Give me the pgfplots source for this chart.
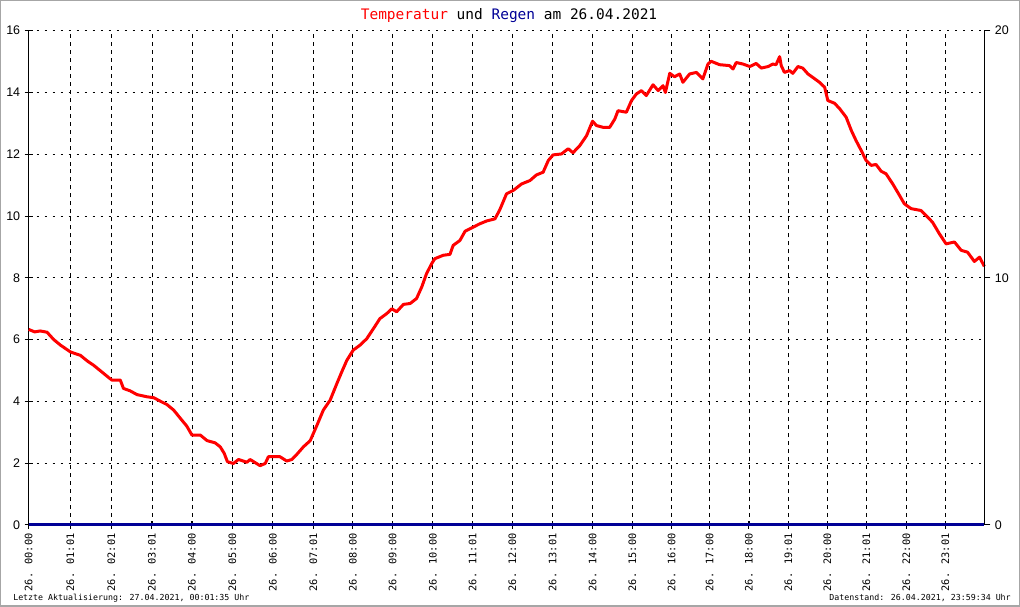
\documentclass[border=0pt]{standalone}
\usepackage{fontspec}
\setmainfont{Liberation Sans}
\newfontfamily\monofont{DejaVu Sans Mono}
\usepackage{pgfplots}
\pgfplotsset{compat=1.18}

\definecolor{regenblau}{RGB}{0,0,150}

\begin{document}
\begin{tikzpicture}
% outer frame of the image
\draw[gray!70, line width=1.5pt] (0,0) rectangle (1020pt,606pt);

\node[anchor=base, font=\monofont\fontsize{14.5}{14.5}\selectfont] at (509pt,587pt)
  {\textcolor{red}{Temperatur} und \textcolor{regenblau}{Regen} am 26.04.2021};

\begin{axis}[
  at={(28pt,81pt)}, anchor=south west,
  scale only axis, width=957pt, height=495pt,
  xmin=0, xmax=24, ymin=0, ymax=16,
  axis x line*=bottom, axis y line*=left,
  axis line style={line width=1pt, -},
  xtick={0,1.046,2.075,3.096,4.099,5.118,6.131,7.150,8.14,9.14,10.15,11.15,12.15,13.16,14.16,15.16,16.15,17.10,18.09,19.08,20.06,21.04,22.04,23.02},
  xticklabels={26. 00:00,26. 01:01,26. 02:01,26. 03:01,26. 04:00,26. 05:00,26. 06:00,26. 07:01,26. 08:00,26. 09:00,26. 10:00,26. 11:01,26. 12:00,26. 13:01,26. 14:00,26. 15:00,26. 16:00,26. 17:00,26. 18:00,26. 19:01,26. 20:00,26. 21:01,26. 22:00,26. 23:01},
  xticklabel style={font=\monofont\fontsize{10.3}{10.3}\selectfont, rotate=90, anchor=east, xshift=-1pt},
  ytick={0,2,4,6,8,10,12,14,16},
  yticklabel style={font=\fontsize{12.5}{12.5}\selectfont, xshift=-1pt},
  /pgf/number format/assume math mode=true,
  tick style={black, line width=1pt},
  major tick length=8pt,
  tick align=center,
  xmajorgrids=true, ymajorgrids=true,
  x grid style={black, line width=0.8pt, dash pattern=on 4pt off 4pt},
  y grid style={black, line width=0.8pt, dash pattern=on 2pt off 6pt},
  clip=false,
]
\addplot[red, line width=3pt, line join=round] coordinates {
(0,6.33) (0.15,6.25) (0.29,6.28) (0.46,6.24) (0.63,6.0) (0.80,5.82) (1.05,5.6) (1.30,5.49)
(1.47,5.31) (1.63,5.17) (1.84,4.95) (2.01,4.77) (2.09,4.69) (2.30,4.69) (2.38,4.42) (2.55,4.34)
(2.72,4.22) (2.97,4.15) (3.14,4.12) (3.30,4.01) (3.47,3.9) (3.64,3.72) (3.81,3.45) (3.97,3.2)
(4.10,2.91) (4.31,2.91) (4.48,2.73) (4.68,2.66) (4.81,2.53) (4.91,2.32) (4.99,2.05) (5.14,1.99)
(5.27,2.12) (5.48,2.03) (5.56,2.12) (5.81,1.92) (5.94,1.99) (6.02,2.21) (6.31,2.21) (6.48,2.07)
(6.61,2.12) (6.73,2.28) (6.90,2.53) (7.07,2.73) (7.24,3.23) (7.40,3.72) (7.57,4.04) (7.74,4.58)
(7.86,4.95) (7.99,5.33) (8.15,5.66) (8.32,5.82) (8.49,6.03) (8.66,6.36) (8.82,6.68) (8.99,6.84)
(9.12,7.0) (9.24,6.9) (9.41,7.14) (9.58,7.17) (9.74,7.33) (9.87,7.70) (9.99,8.13) (10.12,8.46)
(10.20,8.62) (10.41,8.73) (10.58,8.76) (10.66,9.05) (10.83,9.21) (10.96,9.51) (11.16,9.64) (11.33,9.75)
(11.50,9.84) (11.71,9.91) (11.83,10.2) (12.00,10.72) (12.17,10.83) (12.38,11.04) (12.59,11.15) (12.75,11.33)
(12.92,11.42) (13.05,11.8) (13.17,11.98) (13.38,12.01) (13.55,12.18) (13.67,12.05) (13.84,12.28) (14.01,12.6)
(14.16,13.07) (14.26,12.93) (14.43,12.87) (14.59,12.87) (14.72,13.14) (14.80,13.41) (15.01,13.36) (15.14,13.74)
(15.26,13.95) (15.39,14.06) (15.51,13.9) (15.68,14.25) (15.81,14.06) (15.93,14.22) (15.99,14.0) (16.10,14.62)
(16.22,14.51) (16.35,14.6) (16.43,14.33) (16.60,14.6) (16.77,14.65) (16.93,14.44) (17.06,14.92) (17.14,15.01)
(17.35,14.9) (17.60,14.87) (17.69,14.76) (17.77,14.97) (17.94,14.92) (18.11,14.84) (18.27,14.94) (18.40,14.79)
(18.57,14.84) (18.69,14.92) (18.77,14.9) (18.86,15.16) (18.90,14.87) (18.98,14.65) (19.11,14.71) (19.19,14.62)
(19.32,14.84) (19.44,14.79) (19.57,14.6) (19.69,14.49) (19.86,14.33) (19.99,14.17) (20.07,13.74) (20.24,13.65)
(20.37,13.47) (20.53,13.2) (20.66,12.77) (20.78,12.44) (20.91,12.12) (21.03,11.8) (21.16,11.64) (21.28,11.67)
(21.41,11.45) (21.53,11.37) (21.70,11.04) (21.87,10.67) (21.99,10.4) (22.16,10.24) (22.41,10.18) (22.58,9.96)
(22.70,9.8) (22.87,9.43) (23.04,9.1) (23.25,9.16) (23.42,8.89) (23.58,8.83) (23.75,8.53) (23.88,8.67)
(24.0,8.37)
};
\end{axis}

\begin{axis}[
  at={(28pt,81pt)}, anchor=south west,
  scale only axis, width=957pt, height=495pt,
  xmin=0, xmax=24, ymin=0, ymax=20,
  axis x line=none, axis y line*=right,
  axis line style={line width=1pt, -},
  ytick={0,10,20},
  yticklabel style={font=\fontsize{12.5}{12.5}\selectfont, xshift=1pt},
  /pgf/number format/assume math mode=true,
  tick style={black, line width=1pt},
  major tick length=6pt,
  tick align=outside,
  clip=false,
]
\addplot[regenblau, line width=3pt] coordinates {(0,0) (24,0)};
\end{axis}

\node[anchor=base west, font=\monofont\fontsize{8.3}{8.3}\selectfont] at (9pt,5pt)
  {Letzte Aktualisierung: 27.04.2021, 00:01:35 Uhr};
\node[anchor=base east, font=\monofont\fontsize{8.3}{8.3}\selectfont] at (1015pt,5pt)
  {Datenstand: 26.04.2021, 23:59:34 Uhr};
\end{tikzpicture}
\end{document}
